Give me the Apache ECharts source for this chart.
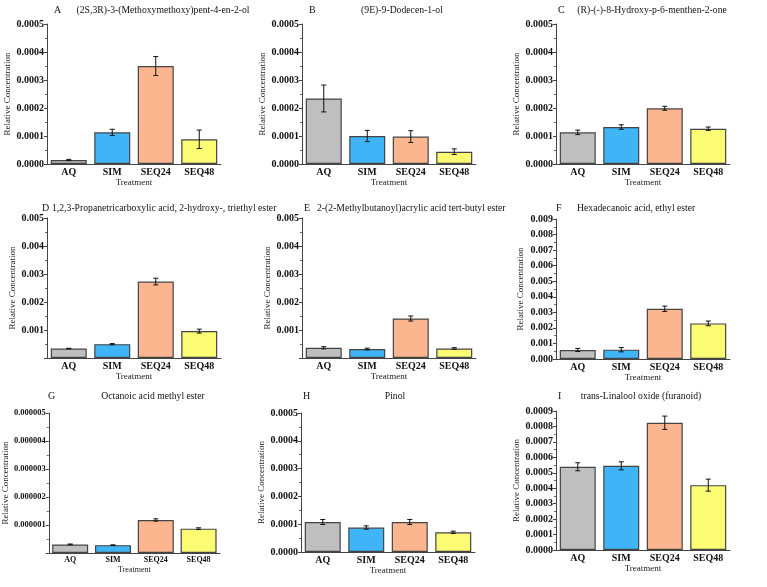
<!DOCTYPE html>
<html>
<head>
<meta charset="utf-8">
<script src="https://cdn.jsdelivr.net/npm/echarts@6/dist/echarts.min.js"></script>
<style>
html,body{margin:0;padding:0;background:#fff;}
#chart{width:767px;height:587px;}
</style>
</head>
<body>
<div id="chart"></div>
<script>
// ---- data ----
const categories = ['AQ', 'SIM', 'SEQ24', 'SEQ48'];
const panelLetters = ['A', 'B', 'C', 'D', 'E', 'F', 'G', 'H', 'I'];
const panelTitles = [
  '(2S,3R)-3-(Methoxymethoxy)pent-4-en-2-ol',
  '(9E)-9-Dodecen-1-ol',
  '(R)-(-)-8-Hydroxy-p-6-menthen-2-one',
  '1,2,3-Propanetricarboxylic acid, 2-hydroxy-, triethyl ester',
  '2-(2-Methylbutanoyl)acrylic acid tert-butyl ester',
  'Hexadecanoic acid, ethyl ester',
  'Octanoic acid methyl ester',
  'Pinol',
  'trans-Linalool oxide (furanoid)'
];
const valuesA = [0.0000143, 0.000113, 0.00035, 0.0000883];
const errorsA = [0.000002, 0.000011, 0.000034, 0.000033];
const valuesB = [0.000234, 0.0001, 0.000098, 0.000044];
const errorsB = [0.000048, 0.00002, 0.000021, 0.00001];
const valuesC = [0.000113, 0.000132, 0.000199, 0.000126];
const errorsC = [0.000008, 0.000008, 0.000007, 0.000006];
const valuesD = [0.000337, 0.000494, 0.00273, 0.00096];
const errorsD = [0.00001, 0.00002, 0.00012, 0.00007];
const valuesE = [0.000365, 0.00032, 0.00141, 0.00034];
const errorsE = [0.00004, 0.00003, 0.00009, 0.00003];
const valuesF = [0.00058, 0.0006, 0.00323, 0.00229];
const errorsF = [0.0001, 0.00014, 0.00017, 0.00015];
const valuesG = [0.000000306, 0.00000028, 0.00000118, 0.00000087];
const errorsG = [0.000000015, 0.000000012, 0.00000004, 0.00000003];
const valuesH = [0.000108, 0.000088, 0.000108, 0.000071];
const errorsH = [0.000009, 0.000006, 0.000009, 0.000004];
const valuesI = [0.000539, 0.000545, 0.000824, 0.00042];
const errorsI = [0.000026, 0.000026, 0.000043, 0.000039];
const yMaxes = [0.0005, 0.0005, 0.0005, 0.005, 0.005, 0.009, 0.000005, 0.0005, 0.0009];
const yIntervals = [0.0001, 0.0001, 0.0001, 0.001, 0.001, 0.001, 0.000001, 0.0001, 0.0001];
const yDecimals = [4, 4, 4, 3, 3, 3, 6, 4, 4];
const hideZeroLabel = [false, false, false, true, true, false, true, false, false];
const axisNameY = 'Relative Concentration';
const axisNameX = 'Treatment';

const allValues = [valuesA, valuesB, valuesC, valuesD, valuesE, valuesF, valuesG, valuesH, valuesI];
const allErrors = [errorsA, errorsB, errorsC, errorsD, errorsE, errorsF, errorsG, errorsH, errorsI];

// ---- layout / style ----
const barColors = ['#bfbfbf', '#3fb5f7', '#fbb68f', '#fbfb74'];
const grids = [
  [47, 24, 174, 140], [302, 24, 174, 140], [556, 24, 174, 140],
  [47, 218, 174, 140], [302, 218, 174, 140], [556, 219, 174, 140],
  [46, 413, 174, 140], [301, 413, 174, 139], [556, 411, 174, 139]
];
const yNameGaps = [34, 35, 33, 30, 30, 31, 35, 35, 34];
// [letterX, titleX, titleAlign, titleY]
const titlePos = [
  [54, 163, 'center', 10], [309, 402, 'center', 10], [558, 652, 'center', 10],
  [42, 52, 'left', 208], [304, 317, 'left', 208], [556, 577, 'left', 208],
  [48, 153, 'center', 396], [303, 395, 'center', 396], [558, 641, 'center', 396]
];
const FONT = '"Liberation Serif", "Times New Roman", serif';

const option = {
  backgroundColor: '#fff',
  animation: false,
  grid: [], xAxis: [], yAxis: [], series: [], graphic: []
};

for (let p = 0; p < 9; p++) {
  const g = grids[p];
  const small = p === 6;
  option.grid.push({left: g[0], top: g[1], width: g[2], height: g[3], containLabel: false});
  option.xAxis.push({
    type: 'category', gridIndex: p, data: categories,
    name: axisNameX, nameLocation: 'middle', nameGap: small ? 13 : 14,
    nameTextStyle: {fontFamily: FONT, fontSize: small ? 8 : 9, color: '#222'},
    axisLine: {lineStyle: {color: '#444', width: 1}},
    axisTick: {show: false},
    axisLabel: {fontFamily: FONT, fontWeight: 'bold', fontSize: small ? 8 : 10, color: '#111', margin: 3}
  });
  const dec = yDecimals[p];
  const hz = hideZeroLabel[p];
  option.yAxis.push({
    type: 'value', gridIndex: p, min: 0, max: yMaxes[p], interval: yIntervals[p],
    name: axisNameY, nameLocation: 'middle', nameGap: yNameGaps[p],
    nameTextStyle: {fontFamily: FONT, fontSize: 9, color: '#222'},
    axisLine: {show: true, lineStyle: {color: '#444', width: 1}},
    axisTick: {show: true, length: 3, lineStyle: {color: '#444'}},
    minorTick: {show: true, splitNumber: 2, length: 2, lineStyle: {color: '#666'}},
    splitLine: {show: false},
    axisLabel: {
      fontFamily: FONT, fontWeight: 'bold', fontSize: small ? 8.5 : 10, color: '#111', margin: 3,
      formatter: function (v) { if (hz && v === 0) return ''; return v.toFixed(dec); }
    }
  });
  const vals = allValues[p];
  option.series.push({
    type: 'bar', xAxisIndex: p, yAxisIndex: p, barWidth: 36,
    data: vals.map((v, i) => ({value: v, itemStyle: {color: barColors[i]}})),
    itemStyle: {borderColor: '#444', borderWidth: 1.2}
  });
  const errs = allErrors[p];
  option.series.push({
    type: 'custom', xAxisIndex: p, yAxisIndex: p, z: 5,
    data: vals.map((v, i) => [i, v, errs[i]]),
    renderItem: function (params, api) {
      const x = api.value(0), y = api.value(1), e = api.value(2);
      const t = api.coord([x, y + e]);
      const b = api.coord([x, y - e]);
      const hw = 2.5;
      const st = {stroke: '#111', lineWidth: 1};
      return {type: 'group', children: [
        {type: 'line', shape: {x1: t[0], y1: t[1], x2: b[0], y2: b[1]}, style: st},
        {type: 'line', shape: {x1: t[0] - hw, y1: t[1], x2: t[0] + hw, y2: t[1]}, style: st},
        {type: 'line', shape: {x1: b[0] - hw, y1: b[1], x2: b[0] + hw, y2: b[1]}, style: st}
      ]};
    }
  });
  const tp = titlePos[p];
  option.graphic.push({
    type: 'text', x: tp[0], y: tp[3],
    style: {text: panelLetters[p], font: '10px ' + FONT, fill: '#111', verticalAlign: 'middle', align: 'left'}
  });
  option.graphic.push({
    type: 'text', x: tp[1], y: tp[3],
    style: {text: panelTitles[p], font: '9.7px ' + FONT, fill: '#111', verticalAlign: 'middle', align: tp[2]}
  });
}

const chart = echarts.init(document.getElementById('chart'), null, {renderer: 'canvas'});
chart.setOption(option);
</script>
</body>
</html>
